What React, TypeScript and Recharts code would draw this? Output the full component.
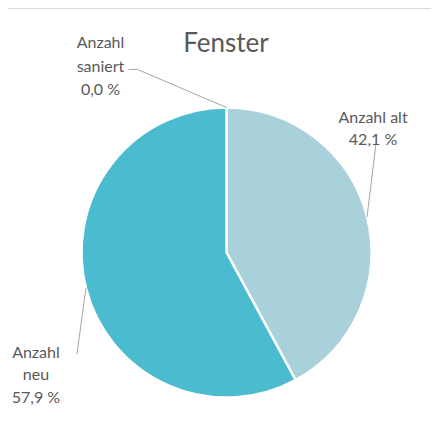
import React from "react";
import { PieChart, Pie, Cell } from "recharts";

const categories = ["Anzahl alt", "Anzahl neu", "Anzahl saniert"];
const values = [42.1, 57.9, 0.0];
const labelLines = [["Anzahl alt", "42,1 %"], ["Anzahl", "neu", "57,9 %"], ["Anzahl", "saniert", "0,0 %"]];
const colors = ["#A8D1DB", "#4BBBCF", "#2E8FA3"];
const title = "Fenster";

const data = categories.map((name, i) => ({ name, value: values[i] }));

// label layout relative to slice edge point (leader line end, text position)
const labelLayout = [
  { line: [[9, -74]], tx: 6, ty: -100, lh: 22 },
  { line: [[-9, 66]], tx: -50, ty: 63, lh: 22.5 },
  { line: [[-89, -38], [-98, -38]], tx: -126, ty: -66, lh: 23.5 },
];

const FONT = "Lato, 'Open Sans', sans-serif";
const TEXT = "#595959";

const renderLabel = (props: any) => {
  const { cx, cy, midAngle, outerRadius, index } = props;
  const RAD = Math.PI / 180;
  const ex = cx + outerRadius * Math.cos(-midAngle * RAD);
  const ey = cy + outerRadius * Math.sin(-midAngle * RAD);
  const lay = labelLayout[index];
  const pts = [[ex, ey], ...lay.line.map(([dx, dy]) => [ex + dx, ey + dy])];
  const lines = labelLines[index];
  return (
    <g key={`lbl-${index}`}>
      <polyline
        points={pts.map((p) => p.join(",")).join(" ")}
        fill="none"
        stroke="#A6A6A6"
        strokeWidth={1}
      />
      {lines.map((t, i) => (
        <text
          key={i}
          x={ex + lay.tx}
          y={ey + lay.ty + i * lay.lh}
          textAnchor="middle"
          dominantBaseline="central"
          fill={TEXT}
          fontSize={16}
          fontFamily={FONT}
        >
          {t}
        </text>
      ))}
    </g>
  );
};

export default function App() {
  return (
    <div style={{ position: "relative", width: 431, height: 430 }}>
      <div
        style={{
          position: "absolute",
          left: -1,
          top: 0,
          width: 600,
          height: 600,
          borderTop: "1px solid #D9D9D9",
          borderLeft: "1px solid #D9D9D9",
          boxSizing: "border-box",
        }}
      />
      <svg
        width={431}
        height={60}
        style={{ position: "absolute", left: 0, top: 0 }}
      >
        <text
          x={218}
          y={43.7}
          textAnchor="middle"
          fontFamily={FONT}
          fontSize={26}
          fill={TEXT}
        >
          {title}
        </text>
      </svg>
      <div style={{ position: "absolute", left: 0, top: 0 }}>
        <PieChart width={431} height={430} margin={{ top: 0, right: 0, bottom: 0, left: 0 }}>
          <Pie
            data={data}
            dataKey="value"
            nameKey="name"
            cx={218.5}
            cy={244.5}
            outerRadius={145}
            startAngle={90}
            endAngle={-270}
            stroke="#FFFFFF"
            strokeWidth={2.5}
            label={renderLabel}
            labelLine={false}
            isAnimationActive={false}
          >
            {data.map((d, i) => (
              <Cell key={d.name} fill={colors[i]} />
            ))}
          </Pie>
        </PieChart>
      </div>
    </div>
  );
}
